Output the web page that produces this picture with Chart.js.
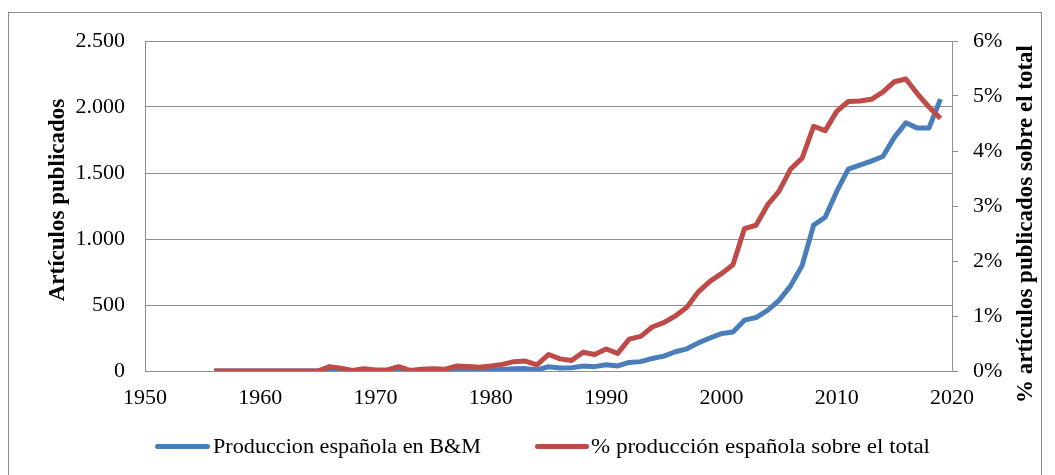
<!DOCTYPE html>
<html><head><meta charset="utf-8">
<script src="https://cdn.jsdelivr.net/npm/chart.js@4.4.0/dist/chart.umd.min.js"></script>
<style>
html,body{margin:0;padding:0;background:#fff;}
#wrap{position:relative;width:1055px;height:475px;overflow:hidden;background:#fff;}
canvas{position:absolute;left:0;top:0;}
.sw{position:absolute;height:5px;border-radius:2.5px;}
.lt{position:absolute;font-family:"Liberation Serif",serif;font-size:22px;color:#000;white-space:nowrap;transform-origin:0 50%;line-height:26px;}
</style></head><body>
<div id="wrap"><canvas id="c" width="1055" height="475"></canvas><div id="legend"></div></div>
<script>
const years = [1956,1957,1958,1959,1960,1961,1962,1963,1964,1965,1966,1967,1968,1969,1970,1971,1972,1973,1974,1975,1976,1977,1978,1979,1980,1981,1982,1983,1984,1985,1986,1987,1988,1989,1990,1991,1992,1993,1994,1995,1996,1997,1998,1999,2000,2001,2002,2003,2004,2005,2006,2007,2008,2009,2010,2011,2012,2013,2014,2015,2016,2017,2018,2019];
const articles = [0,0,0,0,0,0,0,0,0,0,6,3,1,3,1,1,5,1,2,3,2,8,6,5,8,12,17,18,9,32,22,24,37,33,48,38,65,71,95,113,146,168,213,250,283,295,385,405,460,535,645,800,1105,1165,1360,1530,1560,1590,1625,1770,1880,1840,1840,2060];
const percentShare = [0,0,0,0,0,0,0,0,0,0,0.08,0.05,0.01,0.04,0.02,0.02,0.08,0.01,0.03,0.04,0.03,0.09,0.08,0.07,0.09,0.12,0.17,0.18,0.11,0.30,0.22,0.19,0.34,0.30,0.40,0.32,0.58,0.63,0.80,0.88,1.00,1.16,1.44,1.63,1.77,1.93,2.59,2.65,3.02,3.27,3.67,3.87,4.45,4.37,4.72,4.90,4.91,4.94,5.07,5.26,5.31,5.04,4.80,4.59];
const seriesNames = ['Produccion española en B&M', '% producción española sobre el total'];
const seriesColors = ['#4a7ebb', '#be4b48'];
const leftTitle = 'Artículos publicados';
const rightTitle = '% artículos publicados sobre el total';

const FONT = "'Liberation Serif', serif";
const GRID = '#8e8e8e';

function fmtThousands(v){
  const s = String(Math.round(v));
  return s.replace(/\B(?=(\d{3})+(?!\d))/g, '.');
}

const decoPlugin = {
  id: 'deco',
  afterDraw(chart){
    const c = chart.ctx;
    c.save();
    c.strokeStyle = '#8a8a8a';
    c.lineWidth = 1;
    c.strokeRect(8.5, 12.5, 1033, 480);
    c.fillStyle = '#000';
    c.font = "bold 23px " + FONT;
    c.textAlign = 'center';
    c.textBaseline = 'middle';
    c.save(); c.translate(58, 200); c.rotate(-Math.PI/2); c.fillText(leftTitle, 0, 0); c.restore();
    c.save(); c.translate(1026, 224); c.rotate(-Math.PI/2); c.fillText(rightTitle, 0, 0); c.restore();
    c.restore();
  }
};

new Chart(document.getElementById('c'), {
  type: 'line',
  data: {
    datasets: [
      {label: seriesNames[0], data: years.map((y,i)=>({x:y, y:articles[i]})), borderColor: seriesColors[0], backgroundColor: seriesColors[0], borderWidth: 5, pointRadius: 0, tension: 0, yAxisID: 'y', order: 1, borderJoinStyle: 'round', borderCapStyle: 'butt'},
      {label: seriesNames[1], data: years.map((y,i)=>({x:y, y:percentShare[i]})), borderColor: seriesColors[1], backgroundColor: seriesColors[1], borderWidth: 5, pointRadius: 0, tension: 0, yAxisID: 'y1', order: 0, borderJoinStyle: 'round', borderCapStyle: 'butt'}
    ]
  },
  options: {
    responsive: false, animation: false, devicePixelRatio: 1,
    layout: {padding: {top: 41, left: 0, right: 0, bottom: 0}},
    plugins: {legend: {display: false}, tooltip: {enabled: false}},
    scales: {
      x: {type: 'linear', min: 1950, max: 2020,
          ticks: {stepSize: 10, callback: v => String(v), font: {family: FONT, size: 22}, color: '#000', padding: 14, maxRotation: 0, autoSkip: false},
          grid: {display: false, drawTicks: false},
          border: {display: true, color: GRID, width: 1},
          afterFit: s => { s.height = 104; }},
      y: {position: 'left', min: 0, max: 2500,
          ticks: {stepSize: 500, callback: v => fmtThousands(v), font: {family: FONT, size: 22}, color: '#000', padding: 20},
          grid: {color: GRID, lineWidth: 1, drawTicks: false},
          border: {display: true, color: GRID, width: 1},
          afterFit: s => { s.width = 145; }},
      y1: {position: 'right', min: 0, max: 6,
          ticks: {stepSize: 1, callback: v => v + '%', font: {family: FONT, size: 22}, color: '#000', padding: 15},
          grid: {drawOnChartArea: false, drawTicks: true, tickLength: 6, color: GRID, lineWidth: 1},
          border: {display: true, color: GRID, width: 1},
          afterFit: s => { s.width = 103; }}
    }
  },
  plugins: [decoPlugin]
});

// HTML legend
const legendLayout = [
  {sw: 155, swW: 55, tx: 213, tw: 268},
  {sw: 535, swW: 54, tx: 591, tw: 339}
];
const lg = document.getElementById('legend');
seriesNames.forEach((name, i) => {
  const L = legendLayout[i];
  const sw = document.createElement('div');
  sw.className = 'sw';
  sw.style.left = L.sw + 'px'; sw.style.top = '444px'; sw.style.width = L.swW + 'px';
  sw.style.background = seriesColors[i];
  lg.appendChild(sw);
  const t = document.createElement('span');
  t.className = 'lt';
  t.textContent = name;
  t.style.left = L.tx + 'px'; t.style.top = '433px';
  lg.appendChild(t);
  const w = t.getBoundingClientRect().width;
  if (w > 0) t.style.transform = 'scaleX(' + (L.tw / w) + ')';
});
</script>
</body></html>
